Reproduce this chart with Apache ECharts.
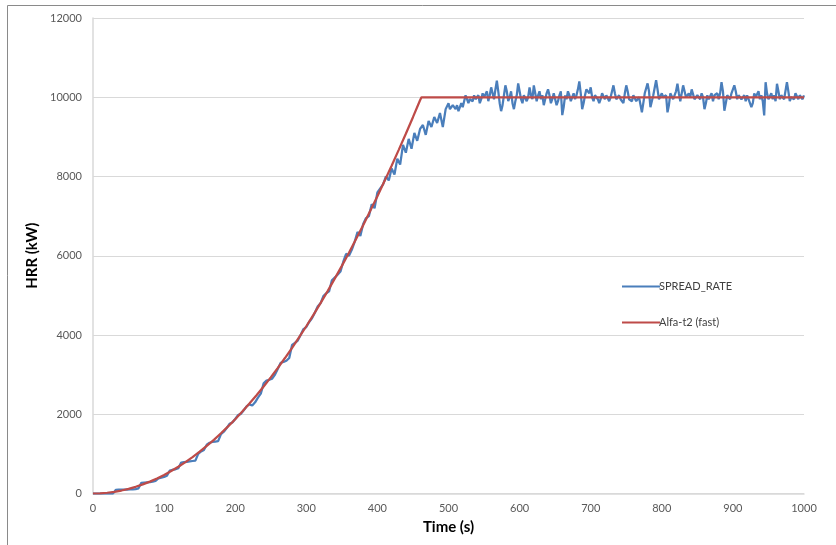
<!DOCTYPE html>
<html><head><meta charset="utf-8">
<script src="https://cdn.jsdelivr.net/npm/echarts@6/dist/echarts.min.js"></script>
<style>html,body{margin:0;padding:0;background:#fff}#c{width:836px;height:545px}</style>
</head><body><div id="c"></div>
<script>
// Axis tick labels / ranges
const xTicks = [0,100,200,300,400,500,600,700,800,900,1000];
const yTicks = [0,2000,4000,6000,8000,10000,12000];

// SPREAD_RATE, growth phase: sampled every 4 s from t = 0 s to 496 s
const riseStart = 0;
const riseStep = 4;
const spreadRise = [
  0,0,0,0,0,0,0,0,90,95,
  95,100,100,105,105,110,130,270,275,280,
  285,300,320,380,400,420,450,580,600,610,
  640,780,790,800,810,820,830,1000,1060,1100,
  1230,1280,1300,1310,1320,1500,1560,1650,1760,1790,
  1880,1980,2010,2100,2200,2250,2220,2300,2420,2520,
  2780,2850,2870,2900,3000,3150,3300,3320,3350,3420,
  3750,3800,3860,4000,4150,4200,4330,4420,4560,4720,
  4800,4980,5050,5100,5380,5450,5520,5600,5850,6050,
  6000,6150,6350,6600,6500,6800,6950,7000,7300,7200,
  7600,7700,7800,8000,7900,8200,8050,8450,8300,8800,
  8600,8950,8700,9100,8900,9200,9300,9050,9400,9250,
  9500,9350,9600,9250,9700
];

// SPREAD_RATE, steady phase: sampled every 2 s from t = 500 s to 1000 s
const plateauStart = 500;
const plateauStep = 2;
const spreadPlateau = [
  9850,9700,9650,9800,9750,9700,9800,9650,9750,9850,
  9750,9900,10050,9950,9850,9950,10000,9900,10050,9950,
  9900,10050,9850,9950,10100,10000,9950,10150,9900,10050,
  10250,10100,9950,10200,10420,10150,9850,9650,9800,10050,
  10300,10150,9900,10000,10150,9850,9700,9900,10050,10350,
  10150,9950,9850,10050,10100,9900,10000,10250,10050,9950,
  10300,10100,9900,10050,10150,9950,10050,9800,9950,10100,
  10200,10050,9850,9950,10100,9950,9800,9900,10050,10150,
  9550,9750,10050,9950,10150,10050,9900,10000,10100,9950,
  10050,10200,10400,10100,9700,9850,10050,10200,10250,10100,
  10250,10000,9900,10050,10100,9950,9850,9950,10100,10050,
  9950,10050,10100,9900,10000,10050,10300,10100,9950,9900,
  10050,9950,10000,9850,10100,10300,10150,9950,10000,9900,
  10050,10100,9900,9850,10000,10050,9620,9850,10100,10050,
  10350,10150,9750,9900,10050,10100,10430,10200,9950,9900,
  10100,10000,9950,10050,9620,9800,10100,10050,9950,10000,
  10150,10340,10100,9900,9950,10300,10150,10000,9950,10100,
  10000,10200,10150,9950,9900,10050,10000,9950,10100,10000,
  9700,9850,10050,9950,10000,10100,9900,10050,10000,10100,
  9950,10100,10380,10150,9660,9850,10050,10000,9950,10100,
  10050,10300,10150,9950,10050,10100,9950,10000,10050,9900,
  10050,9950,10000,9750,9850,10100,10000,10050,10150,9950,
  10050,9900,9540,10380,10100,9950,10000,10100,9950,10050,
  9900,10340,10150,9950,10050,10100,9950,10000,10380,10150,
  9900,10000,10050,9950,10100,10150,9950,10050,10000,9950,
  10050
];

// Alfa-t2 (fast) curve
const alfaTime = [0,10,20,30,40,50,60,70,80,90,100,110,120,130,140,150,160,170,180,190,200,210,220,230,240,250,260,270,280,290,300,310,320,330,340,350,360,370,380,390,400,410,420,430,440,450,460,462,1000];
const alfaHRR  = [0,5,19,42,75,117,169,230,300,380,469,567,675,793,919,1055,1201,1355,1520,1693,1876,2068,2270,2481,2701,2931,3170,3419,3677,3944,4221,4507,4803,5108,5422,5745,6078,6421,6772,7133,7504,7884,8273,8672,9080,9497,9924,10000,10000];

const spreadData = spreadRise.map((v,i)=>[riseStart + i*riseStep, v])
  .concat(spreadPlateau.map((v,i)=>[plateauStart + i*plateauStep, v]));
const alfaData = alfaTime.map((t,i)=>[t, alfaHRR[i]]);

const font = 'Lato, "Open Sans", sans-serif';
const chart = echarts.init(document.getElementById('c'), null, {renderer:'canvas'});
chart.setOption({
  animation:false,
  backgroundColor:'#fff',
  textStyle:{fontFamily:font},
  graphic:[{type:'rect', shape:{x:7.5,y:5.5,width:1000,height:1000}, style:{fill:'none', stroke:'#8a8a8a', lineWidth:1}, silent:true, z:-1}],
  grid:{left:93, right:32, top:18, bottom:51.5, containLabel:false},
  legend:{
    orient:'vertical', left:617, top:276, itemGap:25, itemWidth:38, itemHeight:14,
    icon:'path://M0,6 L38,6 L38,8 L0,8 Z',
    textStyle:{fontSize:11, color:'#404040', fontFamily:font, padding:[0,0,0,-6]},
    data:['SPREAD_RATE','Alfa-t2 (fast)']
  },
  xAxis:{
    type:'value', min:xTicks[0], max:xTicks[xTicks.length-1], interval:xTicks[1]-xTicks[0],
    name:'Time (s)', nameLocation:'middle', nameGap:26,
    nameTextStyle:{fontSize:15, fontWeight:'bold', color:'#000', fontFamily:font},
    axisLine:{show:true, lineStyle:{color:'#d9d9d9', width:1.5}},
    axisTick:{show:false},
    axisLabel:{fontSize:11, color:'#595959', margin:9, fontFamily:font, formatter:v=>String(v)},
    splitLine:{show:false}
  },
  yAxis:{
    type:'value', min:yTicks[0], max:yTicks[yTicks.length-1], interval:yTicks[1]-yTicks[0],
    name:'HRR (kW)', nameLocation:'middle', nameGap:50, nameRotate:90,
    nameTextStyle:{fontSize:15, fontWeight:'bold', color:'#000', fontFamily:font},
    axisLine:{show:true, lineStyle:{color:'#d9d9d9', width:1.5}},
    axisTick:{show:false},
    axisLabel:{fontSize:11, color:'#595959', margin:11, fontFamily:font, formatter:v=>String(v)},
    splitLine:{show:true, lineStyle:{color:'#d9d9d9', width:1.2}}
  },
  series:[
    {name:'SPREAD_RATE', type:'line', data:spreadData, showSymbol:false, symbol:'none',
     lineStyle:{color:'#4a7ebb', width:2.25}, itemStyle:{color:'#4a7ebb'}, z:2},
    {name:'Alfa-t2 (fast)', type:'line', data:alfaData, showSymbol:false, symbol:'none',
     lineStyle:{color:'#be4b48', width:2.25}, itemStyle:{color:'#be4b48'}, z:3}
  ]
});
</script></body></html>
